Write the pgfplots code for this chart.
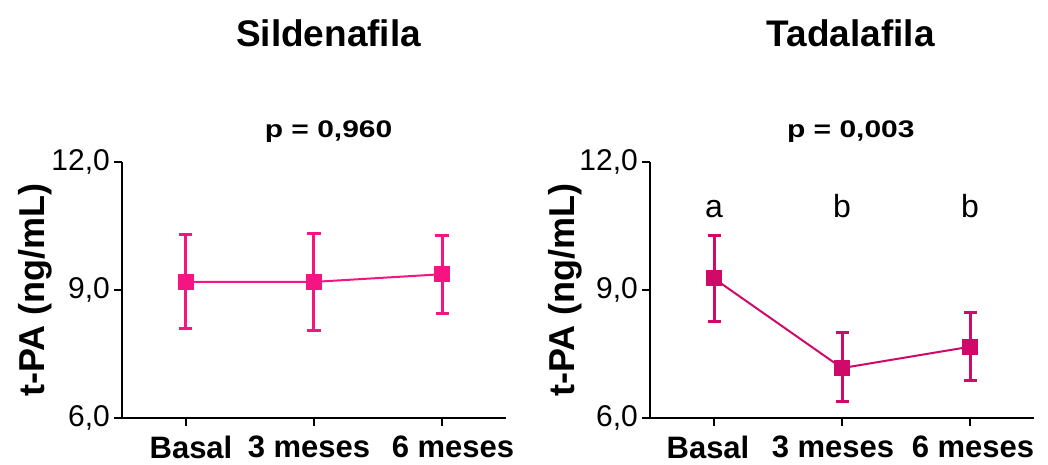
\documentclass[border=0pt]{standalone}
\usepackage{fontspec}
\setmainfont{Liberation Sans}
\usepackage{pgfplots}
\pgfplotsset{compat=1.18}
\definecolor{silc}{RGB}{245,20,130}
\definecolor{tadc}{RGB}{208,10,105}

\pgfplotsset{panel/.style={
  scale only axis, width=384bp, height=256bp,
  xmin=-0.5, xmax=2.5, ymin=6, ymax=12,
  axis x line*=bottom, axis y line*=left,
  axis line style={line width=2bp, black},
  ytick={6,9,12}, yticklabels={{6,0},{9,0},{12,0}},
  xtick={0,1,2},
  xtick align=outside, ytick align=outside,
  xtick pos=bottom, ytick pos=left,
  major tick length=8bp,
  every tick/.style={black, line width=2bp},
  yticklabel style={font=\fontsize{30bp}{36bp}\selectfont, inner sep=1bp, xshift=-3bp},
  xticklabel style={font=\bfseries\fontsize{31bp}{36bp}\selectfont, inner sep=2bp, yshift=-8bp},
  clip=false,
}}

\begin{document}
\begin{tikzpicture}
\path[use as bounding box] (-122bp,-47bp) rectangle (926bp,418bp);

% Sildenafila
\begin{axis}[panel, at={(0,0)}, anchor=south west,
  xticklabels={\hspace*{10bp}Basal, 3 meses\hspace*{10bp}, \hspace*{22bp}6 meses}]
\addplot[silc, line width=2bp, mark=square*, mark size=7bp, mark options={solid, line width=2bp},
  error bars/.cd, y dir=both, y explicit,
  error bar style={line width=3bp, silc},
  error mark options={rotate=90, mark size=6.5bp, line width=3bp, silc}]
  coordinates {
    (0,9.19) += (0,1.11) -= (0,1.10)
    (1,9.19) += (0,1.14) -= (0,1.14)
    (2,9.37) += (0,0.91) -= (0,0.92)
  };
\node[font=\bfseries\fontsize{37bp}{44bp}\selectfont, anchor=base] at (rel axis cs:0.538,1.453) {Sildenafila};
\node[font=\bfseries\fontsize{24bp}{28bp}\selectfont, anchor=base] at (rel axis cs:0.538,1.094) {\scalebox{1.25}[1]{p = 0,960}};
\node[font=\bfseries\fontsize{36bp}{42bp}\selectfont, rotate=90, anchor=center] at ([xshift=-87bp]rel axis cs:0,0.5) {t-PA (ng/mL)};
\end{axis}

% Tadalafila
\begin{axis}[panel, at={(528bp,0)}, anchor=south west,
  xticklabels={Basal\hspace*{12bp}, 3 meses\hspace*{18bp}, \hspace*{6bp}6 meses}]
\addplot[tadc, line width=2bp, mark=square*, mark size=7bp, mark options={solid, line width=2bp},
  error bars/.cd, y dir=both, y explicit,
  error bar style={line width=3bp, tadc},
  error mark options={rotate=90, mark size=6.5bp, line width=3bp, tadc}]
  coordinates {
    (0,9.27) += (0,1.00) -= (0,1.00)
    (1,7.17) += (0,0.83) -= (0,0.78)
    (2,7.67) += (0,0.80) -= (0,0.78)
  };
\node[font=\fontsize{32bp}{38bp}\selectfont, anchor=base] at (axis cs:0,10.71) {a};
\node[font=\fontsize{32bp}{38bp}\selectfont, anchor=base] at (axis cs:1,10.71) {b};
\node[font=\fontsize{32bp}{38bp}\selectfont, anchor=base] at (axis cs:2,10.71) {b};
\node[font=\bfseries\fontsize{37bp}{44bp}\selectfont, anchor=base] at (rel axis cs:0.523,1.453) {Tadalafila};
\node[font=\bfseries\fontsize{24bp}{28bp}\selectfont, anchor=base] at (rel axis cs:0.523,1.094) {\scalebox{1.25}[1]{p = 0,003}};
\node[font=\bfseries\fontsize{36bp}{42bp}\selectfont, rotate=90, anchor=center] at ([xshift=-85bp]rel axis cs:0,0.5) {t-PA (ng/mL)};
\end{axis}
\end{tikzpicture}
\end{document}
